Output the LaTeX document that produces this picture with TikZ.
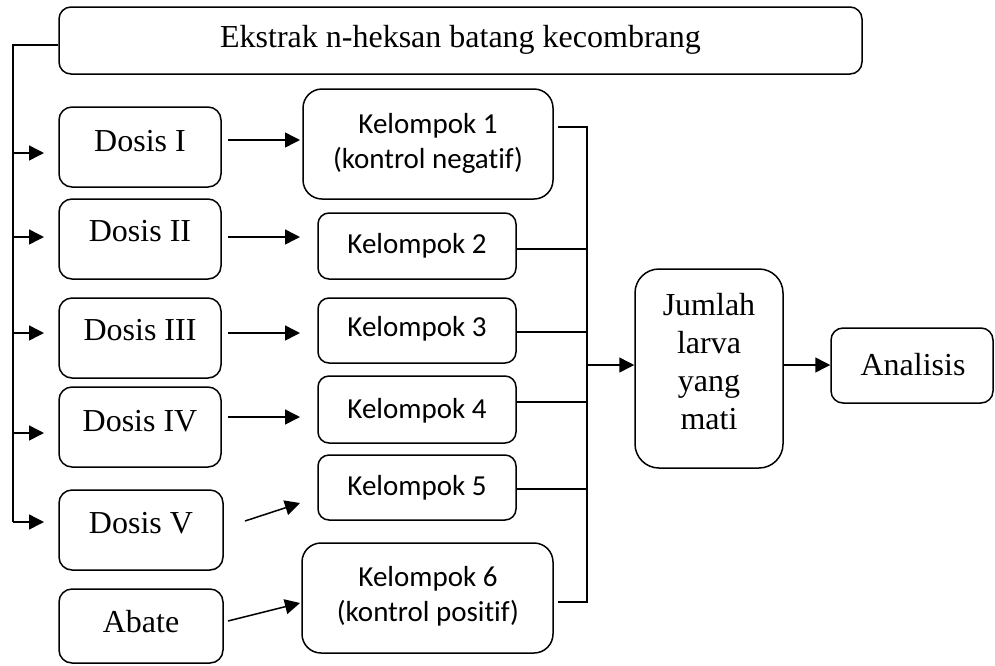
\documentclass[tikz,border=0pt]{standalone}
\usepackage{fontspec}
\setmainfont{Liberation Serif}
\newfontfamily\calfont[Ligatures={NoCommon}]{Carlito}
\usetikzlibrary{arrows.meta}
\tikzset{
  box/.style={draw, line width=1.5pt, rounded corners=#1, inner sep=0pt},
  box/.default=12pt,
  tms/.style={inner sep=0pt, font=\fontsize{32}{38}\selectfont, align=center},
  cal/.style={inner sep=0pt, font=\calfont\fontsize{29}{35}\selectfont, align=center},
  ln/.style={line width=1.5pt},
  arr/.style={line width=1.5pt, -{Triangle[length=15pt,width=15pt]}}
}
\begin{document}
\begin{tikzpicture}[x=1pt,y=-1pt]
\useasboundingbox (0,0) rectangle (995,665);
% top box
\node[box=12pt, minimum width=803pt, minimum height=67pt] (ek) at (460.5,40.5) {};
\node[tms] (ekt) at (460.5,40) {Ekstrak n-heksan batang kecombrang};
% dosis boxes
\node[box=13pt, minimum width=162pt, minimum height=80pt] (d1) at (140,147) {};
\node[box=13pt, minimum width=162pt, minimum height=80pt] (d2) at (140,239) {};
\node[box=13pt, minimum width=162pt, minimum height=80pt] (d3) at (140,338) {};
\node[box=13pt, minimum width=162pt, minimum height=80pt] (d4) at (140,427) {};
\node[box=13pt, minimum width=164pt, minimum height=80pt] (d5) at (141,530) {};
\node[box=13pt, minimum width=164pt, minimum height=74pt] (ab) at (141,626) {};
\node[tms] (d1t) at (140,141) {Dosis I};
\node[tms] (d2t) at (140,231) {Dosis II};
\node[tms] (d3t) at (140,330) {Dosis III};
\node[tms] (d4t) at (140,421) {Dosis IV};
\node[tms] (d5t) at (141,523) {Dosis V};
\node[tms] (abt) at (141,622) {Abate};
% kelompok boxes
\node[box=19pt, minimum width=250pt, minimum height=110pt] (k1) at (428,144) {};
\node[box=11pt, minimum width=198pt, minimum height=66pt] (k2) at (417,246) {};
\node[box=11pt, minimum width=198pt, minimum height=65pt] (k3) at (417,330.5) {};
\node[box=11pt, minimum width=198pt, minimum height=67pt] (k4) at (417,409.5) {};
\node[box=11pt, minimum width=198pt, minimum height=65pt] (k5) at (417,487.5) {};
\node[box=19pt, minimum width=251pt, minimum height=110pt] (k6) at (427.5,598) {};
\node[cal] (k1t) at (428,143) {Kelompok 1\\(kontrol negatif)};
\node[cal] (k2t) at (417,246) {Kelompok 2};
\node[cal] (k3t) at (417,329) {Kelompok 3};
\node[cal] (k4t) at (417,411) {Kelompok 4};
\node[cal] (k5t) at (417,488) {Kelompok 5};
\node[cal] (k6t) at (428,596) {Kelompok 6\\(kontrol positif)};
% jumlah and analisis
\node[box=24pt, minimum width=148pt, minimum height=199pt] (jm) at (709,368.5) {};
\node[tms, text width=148pt] (jmt) at (709,361.5) {Jumlah\\larva\\yang\\mati};
\node[box=12pt, minimum width=162pt, minimum height=75pt] (an) at (912,365.5) {};
\node[tms] (ant) at (913,365) {Analisis};
% left bus
\coordinate (lt) at (13,45);
\coordinate (lb) at (13,522);
\draw[ln] ([yshift=-4.5pt]ek.west) -- (lt) -- (lb);
\draw[arr] (lt |- 0,153) -- (44,153);
\draw[arr] (lt |- 0,237) -- (44,237);
\draw[arr] (lt |- 0,333) -- (44,333);
\draw[arr] (lt |- 0,433) -- (44,433);
\draw[arr] (lb) -- (44,522);
% dosis -> kelompok
\draw[arr] (228,140) -- (300,140);
\draw[arr] (228,237) -- (300,237);
\draw[arr] (228,333) -- (300,333);
\draw[arr] (228,417) -- (300,417);
\draw[arr] (245,521) -- (300,503);
\draw[arr] (228,621) -- (300,603);
% right bus
\coordinate (rt) at (587,127);
\coordinate (rb) at (587,602);
\draw[ln] (558,127) -- (rt) -- (rb) -- (558,602);
\draw[ln] (k2.east |- 0,249) -- (rt |- 0,249);
\draw[ln] (k3.east |- 0,332) -- (rt |- 0,332);
\draw[ln] (k4.east |- 0,402) -- (rt |- 0,402);
\draw[ln] (k5.east |- 0,489) -- (rt |- 0,489);
\draw[arr] (rt |- 0,365) -- (jm.west |- 0,365);
\draw[arr] (jm.east |- 0,365) -- (an.west |- 0,365);
\end{tikzpicture}
\end{document}
